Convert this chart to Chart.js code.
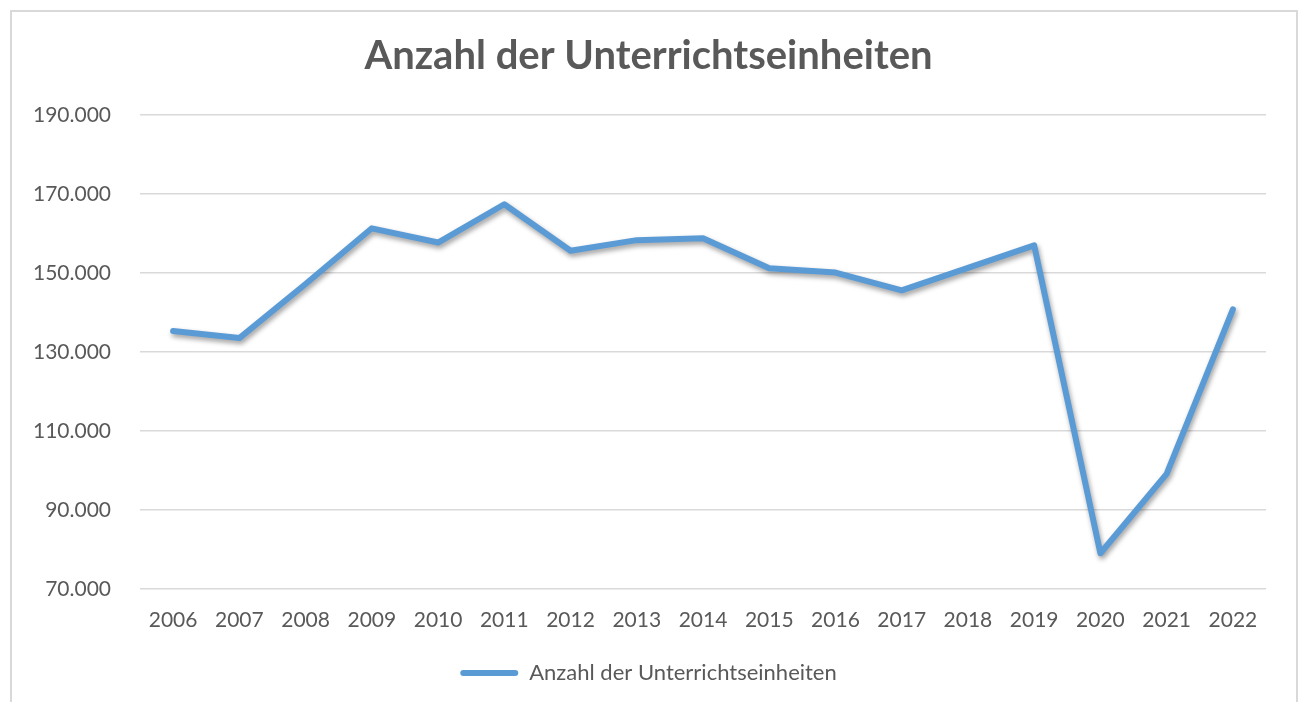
<!DOCTYPE html>
<html>
<head>
<meta charset="utf-8">
<script src="https://cdn.jsdelivr.net/npm/chart.js@4.4.1/dist/chart.umd.min.js"></script>
<style>
  html, body { margin: 0; padding: 0; background: #fff; width: 1299px; height: 702px; overflow: hidden; }
  #frame { position: absolute; left: 10px; top: 10px; width: 1284px; height: 700px; border: 2px solid #d9d9d9; border-bottom: none; }
  #wrap { position: absolute; left: 0; top: 0; width: 1299px; height: 702px; }
</style>
</head>
<body>
<div id="frame"></div>
<div id="wrap"><canvas id="c"></canvas></div>
<script>
const chartTitle = 'Anzahl der Unterrichtseinheiten';
const seriesName = 'Anzahl der Unterrichtseinheiten';
const categories = ['2006','2007','2008','2009','2010','2011','2012','2013','2014','2015','2016','2017','2018','2019','2020','2021','2022'];
const values = [135300,133500,147200,161300,157700,167400,155600,158300,158800,151200,150100,145600,151300,157000,79000,99100,140800];
const yMin = 70000;
const yMax = 190000;
const yStep = 20000;

const textColor = '#595959';
const lineColor = '#5b9bd5';
const fontFamily = 'Lato, "Open Sans", "Liberation Sans", sans-serif';

function fmtDE(v) {
  return String(Math.round(v)).replace(/\B(?=(\d{3})+(?!\d))/g, '.');
}

const shadowPlugin = {
  id: 'lineShadow',
  beforeDatasetsDraw(chart) {
    const ctx = chart.ctx;
    ctx.save();
    ctx.shadowColor = 'rgba(0,0,0,0.38)';
    ctx.shadowBlur = 5;
    ctx.shadowOffsetX = 1.5;
    ctx.shadowOffsetY = 3;
  },
  afterDatasetsDraw(chart) {
    chart.ctx.restore();
  }
};

new Chart(document.getElementById('c'), {
  type: 'line',
  data: {
    labels: categories,
    datasets: [{
      label: seriesName,
      data: values,
      borderColor: lineColor,
      backgroundColor: lineColor,
      borderWidth: 6,
      borderJoinStyle: 'round',
      borderCapStyle: 'round',
      pointRadius: 0,
      pointHoverRadius: 0,
      tension: 0,
      fill: false
    }]
  },
  plugins: [shadowPlugin],
  options: {
    responsive: true,
    maintainAspectRatio: false,
    animation: false,
    layout: { padding: { left: 31, right: 33, top: 0, bottom: 8 } },
    plugins: {
      title: {
        display: true,
        text: chartTitle,
        color: textColor,
        font: { family: fontFamily, size: 40, weight: 'bold', lineHeight: 1.2 },
        padding: { top: 32, bottom: 35 }
      },
      legend: {
        display: true,
        position: 'bottom',
        labels: {
          color: textColor,
          font: { family: fontFamily, size: 22 },
          boxWidth: 58,
          boxHeight: 6,
          useBorderRadius: true,
          borderRadius: 3,
          padding: 10,
          generateLabels(chart) {
            return chart.data.datasets.map((ds, i) => ({
              text: ds.label,
              fillStyle: ds.borderColor,
              strokeStyle: ds.borderColor,
              lineWidth: 0,
              fontColor: textColor,
              borderRadius: 3,
              datasetIndex: i,
              hidden: false
            }));
          }
        }
      },
      tooltip: { enabled: false }
    },
    scales: {
      x: {
        type: 'category',
        offset: true,
        grid: { display: false, drawTicks: false },
        border: { display: false },
        ticks: {
          color: textColor,
          font: { family: fontFamily, size: 21 },
          padding: 19,
          maxRotation: 0,
          autoSkip: false
        }
      },
      y: {
        min: yMin,
        max: yMax,
        afterFit(scale) { scale.width = 109; },
        grid: { color: '#d9d9d9', lineWidth: 1.5, drawTicks: false },
        border: { display: false },
        ticks: {
          stepSize: yStep,
          color: textColor,
          font: { family: fontFamily, size: 21 },
          padding: 29,
          callback: (v) => fmtDE(v)
        }
      }
    }
  }
});
</script>
</body>
</html>
